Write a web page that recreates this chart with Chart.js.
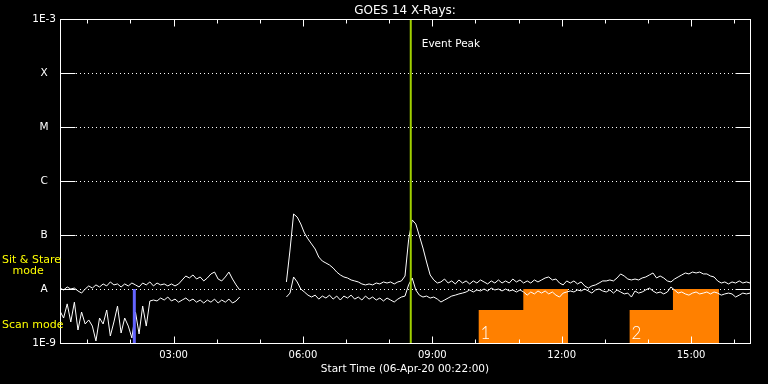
<!DOCTYPE html>
<html><head><meta charset="utf-8">
<script src="https://cdn.jsdelivr.net/npm/chart.js@4/dist/chart.umd.min.js"></script>
<style>html,body{margin:0;padding:0;background:#000;overflow:hidden}canvas{display:block}</style>
</head><body>
<canvas id="c" width="768" height="384"></canvas>
<script>
// ---- data (flux in units of 1e-9 W/m^2, 5-minute samples from 00:22) ----
const startMinute = 22;
const sampleMinutes = 5;
const longFlux = [
  10.4, 9.6, 10.9, 10.0, 10.4, 9.2, 8.4, 10.0, 11.4, 10.4, 11.9, 10.9, 12.4, 11.4, 13.5, 11.9, 12.4, 10.9, 12.4, 11.4,
  12.9, 11.9, 10.9, 12.9, 11.9, 13.5, 11.4, 12.9, 11.9, 12.4, 11.4, 12.4, 11.4, 12.4, 14.7, 17.4, 16.0, 18.2, 15.3, 16.7,
  14.1, 16.0, 19.0, 20.6, 15.3, 14.1, 16.7, 20.6, 15.3, 11.9, 9.6,
  null, null, null, null, null, null, null, null, null, null, null, null,
  13.5, 52.7, 245, 215, 160, 109, 84.7, 68.3, 55.0, 39.1, 32.9, 30.3, 27.8, 24.5, 20.6, 18.2, 16.7, 16.0, 14.7, 14.1,
  13.5, 12.4, 11.9, 12.4, 11.9, 12.9, 12.4, 13.5, 12.9, 13.5, 12.4, 13.5, 14.1, 17.4, 81.2, 190, 160, 96, 57.4, 31.6,
  18.2, 14.7, 12.9, 13.5, 15.3, 12.9, 14.1, 12.4, 14.7, 12.9, 14.1, 12.4, 14.1, 12.9, 14.7, 13.5, 12.4, 14.1, 12.9, 14.7,
  12.9, 14.1, 12.9, 15.3, 13.5, 14.7, 12.9, 14.1, 12.9, 14.7, 13.5, 14.7, 16.0, 16.7, 14.7, 15.3, 12.9, 11.9, 14.1, 12.9,
  14.1, 12.4, 13.5, 11.4, 10.4, 11.4, 11.9, 12.9, 14.1, 14.1, 14.7, 14.1, 16.0, 19.0, 17.4, 15.3, 14.7, 15.3, 14.7, 16.0,
  16.7, 18.2, 19.8, 16.0, 17.4, 16.0, 14.1, 13.5, 15.3, 16.7, 18.2, 19.8, 19.0, 20.6, 19.8, 20.6, 19.0, 19.0, 17.4, 16.7,
  14.1, 12.9, 13.5, 12.4, 13.5, 12.9, 14.1, 12.9, 13.5, 12.9
];
const shortFlux = [
  3.9, 2.9, 5.3, 2.45, 5.7, 1.74, 3.75, 2.25, 2.67, 2.06, 1.09, 2.9, 2.25, 4.08, 1.35, 2.45, 4.84, 1.53, 2.9, 2.06,
  1.24, 3.75, 1.47, 4.84, 2.06, 5.99, 6.25, 6.0, 6.8, 6.25, 7.1, 6.0, 6.5, 5.7, 6.25, 6.8, 6.0, 6.5, 5.7, 6.25,
  5.5, 6.25, 5.7, 6.5, 5.5, 6.25, 5.7, 6.5, 5.5, 6.0, 7.1,
  null, null, null, null, null, null, null, null, null, null, null, null,
  7.1, 8.4, 16.7, 13.5, 10.0, 8.8, 7.7, 7.1, 7.7, 6.5, 7.4, 6.8, 7.7, 6.5, 7.4, 6.25, 7.4, 6.8, 7.7, 6.5,
  7.1, 6.25, 7.4, 6.5, 7.1, 6.25, 6.8, 6.0, 6.8, 6.25, 5.74, 6.5, 7.1, 7.4, 11.9, 16.0, 9.6, 7.7, 7.1, 7.4,
  6.8, 7.1, 6.5, 5.74, 6.25, 6.8, 7.4, 7.7, 8.1, 8.4, 8.8, 9.6, 8.8, 9.6, 9.2, 10.0, 9.2, 10.4, 9.6, 10.0,
  9.2, 10.0, 9.2, 9.6, 8.8, 9.6, 8.8, 7.7, 8.8, 8.1, 9.2, 8.4, 9.2, 8.1, 8.8, 7.7, 7.1, 8.4, 8.8, 9.2,
  8.8, 9.6, 9.2, 10.0, 9.2, 8.4, 9.6, 10.0, 9.2, 8.8, 9.6, 8.4, 9.6, 8.8, 8.1, 8.4, 7.1, 9.2, 8.4, 8.8,
  9.6, 10.4, 9.2, 8.4, 8.8, 8.1, 8.8, 10.9, 9.6, 8.4, 8.8, 8.1, 7.7, 8.4, 8.8, 8.1, 8.4, 8.8, 8.1, 8.8,
  8.4, 7.7, 8.1, 8.4, 8.1, 7.1, 7.7, 8.4, 8.1, 8.4
];
const hours = longFlux.map((_, k) => (startMinute + sampleMinutes * k) / 60);

const decadeValues = [1e-9, 1e-8, 1e-7, 1e-6, 1e-5, 1e-4, 1e-3];
const decadeLabels = ['1E-9', 'A', 'B', 'C', 'M', 'X', '1E-3'];
const timeLabelHours = [3, 6, 9, 12, 15];
const hourTicks = [1, 2, 3, 4, 5, 6, 7, 8, 9, 10, 11, 12, 13, 14, 15, 16];
const xMinHour = 22 / 60;
const xMaxHour = 16 + 22 / 60;

const eventPeakHour = 8.5;
const modeSwitchHour = 2.09;
const modeSwitchTop = 1e-8;

const boxStartHours = [10.07, 13.57];
const boxStepHours = [11.11, 14.58];
const boxEndHours = [12.15, 15.65];
const boxLowLevel = 4.1e-9;
const boxHighLevel = 1e-8;
const boxNames = ['1', '2'];

const titleText = 'GOES 14 X-Rays:';
const xTitleText = 'Start Time (06-Apr-20 00:22:00)';
const eventText = 'Event Peak';

// ---- chart ----
const FONT = 'DejaVu Sans';
Chart.defaults.font.family = FONT;

const series = arr => hours.map((h, k) => ({x: h, y: arr[k] == null ? null : arr[k] * 1e-9}));

const boxSets = boxStartHours.map((s, i) => ({
  type: 'line',
  data: [{x: s, y: boxLowLevel}, {x: boxStepHours[i], y: boxLowLevel}, {x: boxStepHours[i], y: boxHighLevel}, {x: boxEndHours[i], y: boxHighLevel}],
  borderWidth: 0, borderColor: '#ff8000', backgroundColor: '#ff8000',
  fill: 'start', pointRadius: 0, order: 3
}));

const deco = {
  id: 'deco',
  beforeDraw(chart) {
    const c = chart.ctx;
    c.save(); c.fillStyle = '#000'; c.fillRect(0, 0, chart.width, chart.height); c.restore();
  },
  beforeDatasetsDraw(chart) {
    const c = chart.ctx, a = chart.chartArea, y = chart.scales.y;
    c.save();
    c.strokeStyle = '#fff'; c.lineWidth = 1; c.setLineDash([1, 3]);
    decadeValues.slice(1, -1).forEach(v => {
      const py = Math.round(y.getPixelForValue(v)) + 0.5;
      c.beginPath(); c.moveTo(a.left, py); c.lineTo(a.right, py); c.stroke();
    });
    c.restore();
  },
  afterDatasetsDraw(chart) {
    const c = chart.ctx, a = chart.chartArea, x = chart.scales.x, y = chart.scales.y;
    const L = Math.round(a.left) + 0.5, R = Math.round(a.right) + 0.5, T = Math.round(a.top) + 0.5, B = Math.round(a.bottom) + 0.5;
    c.save();
    c.strokeStyle = '#fff'; c.lineWidth = 1; c.setLineDash([]);
    c.strokeRect(L, T, R - L, B - T);
    decadeValues.forEach(v => {
      const py = Math.round(y.getPixelForValue(v)) + 0.5;
      c.beginPath(); c.moveTo(L, py); c.lineTo(L + 15, py); c.moveTo(R - 15, py); c.lineTo(R, py); c.stroke();
    });
    hourTicks.forEach(h => {
      const px = Math.round(x.getPixelForValue(h)) + 0.5;
      const len = timeLabelHours.includes(h) ? 7 : 4;
      c.beginPath(); c.moveTo(px, T); c.lineTo(px, T + len); c.moveTo(px, B); c.lineTo(px, B - len); c.stroke();
    });
    // text
    c.fillStyle = '#fff';
    c.font = '12px ' + FONT; c.textAlign = 'center'; c.textBaseline = 'alphabetic';
    c.fillText(titleText, (a.left + a.right) / 2, 13.5);
    c.textAlign = 'left';
    c.font = '10.5px ' + FONT;
    c.fillText(eventText, x.getPixelForValue(eventPeakHour) + 11, 47);
    c.font = '300 17px Lato, ' + FONT;
    boxNames.forEach((n, i) => c.fillText(n, x.getPixelForValue(boxStartHours[i]) + 2, y.getPixelForValue(1e-9) - 4));
    c.fillStyle = '#ffff00';
    c.font = '11px ' + FONT;
    c.fillText('Sit & Stare', 2, 262.5);
    c.fillText('mode', 12.5, 274);
    c.fillText('Scan mode', 2, 327.5);
    c.restore();
  }
};

new Chart(document.getElementById('c'), {
  type: 'line',
  data: {
    datasets: [
      ...boxSets,
      {data: series(longFlux), borderColor: '#fff', borderWidth: 1, pointRadius: 0, spanGaps: false, order: 2, tension: 0},
      {data: series(shortFlux), borderColor: '#fff', borderWidth: 1, pointRadius: 0, spanGaps: false, order: 2, tension: 0},
      {data: [{x: eventPeakHour, y: 1e-9}, {x: eventPeakHour, y: 1e-3}], borderColor: '#a0d000', borderWidth: 2, pointRadius: 0, order: 1},
      {data: [{x: modeSwitchHour, y: 1e-9}, {x: modeSwitchHour, y: modeSwitchTop}], borderColor: '#6464ff', borderWidth: 3, pointRadius: 0, order: 1}
    ]
  },
  options: {
    responsive: false, animation: false, devicePixelRatio: 1,
    layout: {padding: {top: 19, right: 18, left: 0, bottom: 0}},
    plugins: {legend: {display: false}, tooltip: {enabled: false}, title: {display: false}},
    scales: {
      x: {
        type: 'linear', min: xMinHour, max: xMaxHour,
        afterBuildTicks: s => { s.ticks = timeLabelHours.map(v => ({value: v})); },
        afterFit: s => { s.height = 41; },
        grid: {display: false, drawTicks: false}, border: {display: false},
        ticks: {color: '#fff', font: {size: 10}, padding: 6.5, maxRotation: 0, autoSkip: false,
          callback: v => String(v).padStart(2, '0') + ':00'},
        title: {display: true, text: xTitleText, color: '#fff', font: {size: 10.5}, padding: {top: 0, bottom: 8.7}}
      },
      y: {
        type: 'logarithmic', min: 1e-9, max: 1e-3,
        afterBuildTicks: s => { s.ticks = decadeValues.map(v => ({value: v})); },
        afterFit: s => { s.width = 60; },
        grid: {display: false, drawTicks: false}, border: {display: false},
        ticks: {color: '#fff', font: {size: 10.5}, padding: 4, crossAlign: 'center', autoSkip: false,
          callback: (v, i) => decadeLabels[i]}
      }
    }
  },
  plugins: [deco]
});
</script>
</body></html>
